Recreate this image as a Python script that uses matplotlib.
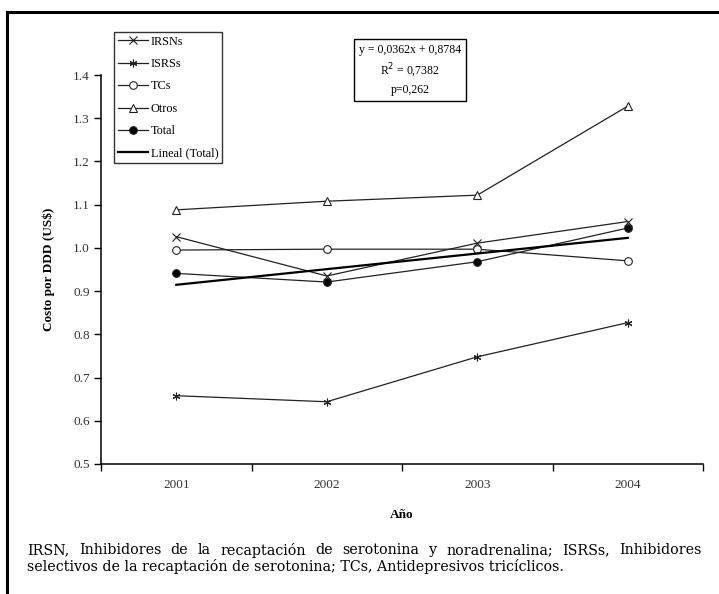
import matplotlib
matplotlib.use("Agg")
import matplotlib.pyplot as plt
from matplotlib.lines import Line2D
import numpy as np

# data
years = ["2001", "2002", "2003", "2004"]
irsn = [1.026, 0.935, 1.011, 1.061]
isrs = [0.658, 0.644, 0.748, 0.827]
tcs = [0.995, 0.997, 0.997, 0.970]
otros = [1.088, 1.108, 1.122, 1.328]
total = [0.941, 0.921, 0.968, 1.046]
trend_slope, trend_icpt = 0.0362, 0.8784
eq_lines = ["y = 0,0362x + 0,8784", "R$^2$ = 0,7382", "p=0,262"]
caption1 = ("IRSN, Inhibidores de la recaptación de serotonina y noradrenalina; "
            "ISRSs, Inhibidores")
caption2 = ("selectivos de la recaptación de serotonina; TCs, "
            "Antidepresivos tricíclicos.")

plt.rcParams["font.family"] = ["Liberation Serif", "DejaVu Serif"]
W, H = 719, 594
fig = plt.figure(figsize=(W / 100, H / 100), dpi=100)

def fx(px): return px / W
def fy(py): return 1 - py / H

# outer page frame (top and left only)
fig.add_artist(Line2D([fx(7), 1], [fy(12), fy(12)], color="black", lw=2.2))
fig.add_artist(Line2D([fx(7), fx(7)], [fy(12), 0], color="black", lw=2.2))

x0, x1, ytop, ybot = 101, 703, 75, 464
ax = fig.add_axes([fx(x0), fy(ybot), fx(x1 - x0), (ybot - ytop) / H])
xs = np.arange(1, 5)
mk = dict(color="#222222", lw=0.9, ms=5.5, mew=0.8)
ax.plot(xs, irsn, marker="x", label="IRSNs", **mk)
ax.plot(xs, isrs, marker=(6, 2, 0), label="ISRSs", **mk)
ax.plot(xs, tcs, marker="o", mfc="white", label="TCs", **mk)
ax.plot(xs, otros, marker="^", mfc="white", label="Otros", **mk)
ax.plot(xs, total, marker="o", mfc="black", label="Total", **mk)
ax.plot(xs, trend_icpt + trend_slope * xs, color="black", lw=1.6,
        label="Lineal (Total)")

ax.set_xlim(0.5, 4.5)
ax.set_ylim(0.5, 1.4)
ax.set_yticks(np.arange(0.5, 1.41, 0.1))
ax.set_yticklabels([f"{v:.1f}" for v in np.arange(0.5, 1.41, 0.1)])
ax.set_xticks(np.arange(0.5, 4.6, 1.0))
ax.set_xticklabels([])
ax.set_xticks(xs, minor=True)
ax.set_xticklabels(years, minor=True)
ax.tick_params(axis="x", which="minor", length=0, pad=11, labelsize=9.5,
               labelcolor="#333333")
ax.tick_params(axis="x", which="major", length=5, width=1, direction="out")
ax.tick_params(axis="y", length=5, width=1, direction="out", labelsize=9.5,
               pad=3, labelcolor="#333333")
for s in ["top", "right"]:
    ax.spines[s].set_visible(False)
for s in ["left", "bottom"]:
    ax.spines[s].set_linewidth(1.1)
ax.set_ylabel("Costo por DDD (US$)", fontweight="bold", fontsize=9.5)
ax.yaxis.set_label_coords((55 - x0) / (x1 - x0), 0.5)
ax.set_xlabel("Año", fontweight="bold", fontsize=9.5)
ax.xaxis.set_label_coords(0.5, -(515 - ybot) / (ybot - ytop))
ax.xaxis.label.set_va("center")

h, l = ax.get_legend_handles_labels()
leg = fig.legend(h, l, loc="upper left", bbox_to_anchor=(fx(114), fy(32)),
                 fontsize=8.8, frameon=True, fancybox=False, handlelength=2.5,
                 borderpad=0.3, labelspacing=0.85, handletextpad=0.2,
                 borderaxespad=0)
leg.get_frame().set_edgecolor("black")
leg.get_frame().set_linewidth(1)

fig.text(fx(461), fy(70), "\n".join(eq_lines), ha="right", va="center",
         fontsize=8.5, linespacing=1.45, multialignment="center",
         bbox=dict(boxstyle="square,pad=0.45", fc="white", ec="black", lw=1))

# caption: first line justified between left and right margins
cap = dict(fontsize=10.3, va="center", family=["DejaVu Serif"])
fig.canvas.draw()
rend = fig.canvas.get_renderer()
words = caption1.split(" ")
cx0, cx1 = 27, 702
tobjs = [fig.text(0, fy(550), w, **cap) for w in words]
widths = [t.get_window_extent(rend).width for t in tobjs]
gap = (cx1 - cx0 - sum(widths)) / (len(words) - 1)
pos = cx0
for t, wd in zip(tobjs, widths):
    t.set_x(fx(pos))
    pos += wd + gap
fig.text(fx(cx0), fy(567), caption2, **cap)

fig.savefig("out.png", dpi=100)
